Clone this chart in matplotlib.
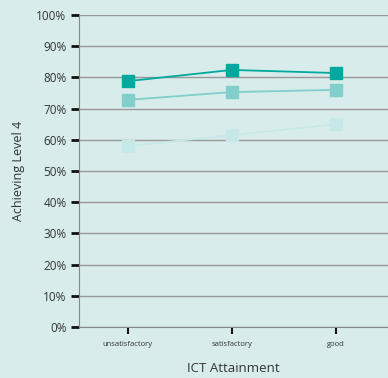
import matplotlib.pyplot as plt

categories = ['unsatisfactory', 'satisfactory', 'good']
dark = [78.8, 82.4, 81.4]
medium = [72.8, 75.3, 76.0]
light = [58.0, 61.5, 65.0]

bg = '#d8ecec'
plt.rcParams['font.family'] = ['Open Sans', 'DejaVu Sans']

fig = plt.figure(figsize=(3.88, 3.78), dpi=100, facecolor=bg)
ax = fig.add_axes([79/388, 1 - 327/378, 1 - 79/388, 312/378])
ax.set_facecolor(bg)

x = range(len(categories))
for vals, col in [(light, '#c6e8e6'), (medium, '#80cfca'), (dark, '#00a99d')]:
    ax.plot(x, vals, color=col, marker='s', markersize=8.5, linewidth=1.3)

ax.set_ylim(0, 100)
ax.set_xlim(-0.47, 2.5)
ax.set_yticks(range(0, 101, 10))
ax.set_yticklabels([f'{v}%' for v in range(0, 101, 10)], fontsize=8.5, color='#333333')
ax.set_xticks(list(x))
ax.set_xticklabels(categories, fontsize=5.5, color='#333333')
ax.yaxis.grid(True, color='#999999', linewidth=1)
ax.set_axisbelow(True)
ax.tick_params(axis='y', length=6, width=2, color='#111111', pad=3)
ax.tick_params(axis='x', length=5, width=1.5, color='#111111', pad=5)

for s in ['top', 'right']:
    ax.spines[s].set_visible(False)
ax.spines['left'].set_color('#888888')
ax.spines['bottom'].set_color('#888888')

ax.set_ylabel('Achieving Level 4', fontsize=9, color='#333333', labelpad=8)
ax.set_xlabel('ICT Attainment', fontsize=9.5, color='#333333', labelpad=10)

plt.savefig('out.png', dpi=100, facecolor=bg)
